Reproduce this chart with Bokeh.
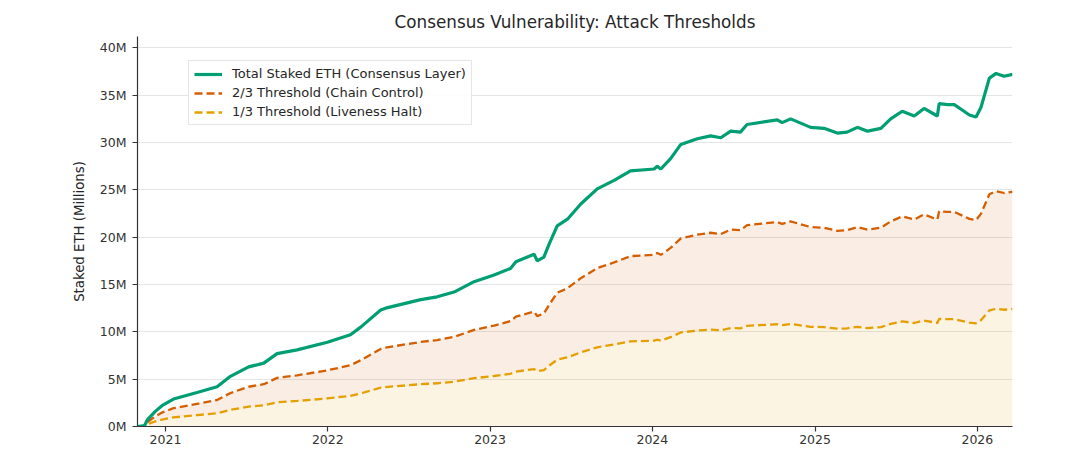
import pandas as pd
from bokeh.plotting import figure
from bokeh.models import (FixedTicker, PrintfTickFormatter, Legend, LegendItem,
                          Range1d, DatetimeTickFormatter, ColumnDataSource)
from bokeh.embed import file_html
from bokeh.resources import INLINE

# ---- data ----
dates = [
    "2020-10-30", "2020-11-15", "2020-11-21", "2020-12-09", "2020-12-24",
    "2021-01-19", "2021-03-13", "2021-04-27", "2021-05-27", "2021-07-07",
    "2021-08-10", "2021-09-09", "2021-10-24", "2021-12-31", "2022-02-21",
    "2022-03-16", "2022-04-30", "2022-05-11", "2022-07-29", "2022-09-04",
    "2022-10-12", "2022-11-26", "2023-01-10", "2023-02-16", "2023-02-28",
    "2023-04-10", "2023-04-17", "2023-05-02", "2023-05-14", "2023-06-01",
    "2023-06-24", "2023-07-24", "2023-08-30", "2023-10-07", "2023-11-13",
    "2024-01-05", "2024-01-12", "2024-01-20", "2024-02-11", "2024-03-05",
    "2024-04-11", "2024-05-11", "2024-06-03", "2024-06-25", "2024-07-17",
    "2024-08-01", "2024-10-08", "2024-10-19", "2024-11-07", "2024-12-22",
    "2025-01-21", "2025-02-20", "2025-03-14", "2025-04-06", "2025-04-29",
    "2025-05-29", "2025-06-20", "2025-07-16", "2025-08-12", "2025-09-03",
    "2025-10-03", "2025-10-07", "2025-10-26", "2025-11-10", "2025-12-02",
    "2025-12-14", "2025-12-29", "2026-01-09", "2026-01-28", "2026-02-12",
    "2026-03-02", "2026-03-21",
]
total_staked_m = [
    0.0, 0.1, 0.7, 1.6, 2.2,
    2.9, 3.6, 4.2, 5.3, 6.3,
    6.7, 7.7, 8.1, 8.9, 9.7,
    10.5, 12.3, 12.5, 13.4, 13.7,
    14.2, 15.3, 16.0, 16.7, 17.4,
    18.2, 17.5, 17.9, 19.3, 21.2,
    21.9, 23.5, 25.1, 26.0, 27.0,
    27.2, 27.5, 27.2, 28.3, 29.8,
    30.4, 30.7, 30.5, 31.2, 31.1,
    31.9, 32.4, 32.1, 32.5, 31.6,
    31.5, 31.0, 31.1, 31.6, 31.2,
    31.5, 32.5, 33.3, 32.8, 33.6,
    32.8, 34.1, 34.0, 34.0, 33.3,
    32.9, 32.7, 33.7, 36.8, 37.3,
    37.0, 37.2,
]
year_ticks = ["2021", "2022", "2023", "2024", "2025", "2026"]
y_ticks = [0, 5, 10, 15, 20, 25, 30, 35, 40]

series_names = ["Total Staked ETH (Consensus Layer)",
                "2/3 Threshold (Chain Control)",
                "1/3 Threshold (Liveness Halt)"]
GREEN, ORANGE, YELLOW = "#009e73", "#d55e00", "#e69f00"

df = pd.DataFrame({"date": pd.to_datetime(dates), "total": total_staked_m})
df["two_thirds"] = df["total"] * 2 / 3
df["one_third"] = df["total"] / 3
df["zero"] = 0.0
src = ColumnDataSource(df)

FONT = "DejaVu Sans"
p = figure(width=1064, height=449, x_axis_type="datetime",
           output_backend="svg", toolbar_location=None,
           x_range=Range1d(df["date"].min(), df["date"].max()),
           y_range=Range1d(0, 41.2),
           min_border_left=137, min_border_right=52,
           min_border_top=36, min_border_bottom=23)

p.title.text = "Consensus Vulnerability: Attack Thresholds"
p.title.align = "center"
p.title.text_font = FONT
p.title.text_font_size = "16.8px"
p.title.text_font_style = "normal"
p.title.text_color = "#262626"

p.outline_line_color = None
p.background_fill_color = "white"
p.border_fill_color = "white"

# fills
p.varea(x="date", y1="one_third", y2="two_thirds", source=src,
        fill_color=ORANGE, fill_alpha=0.11)
p.varea(x="date", y1="zero", y2="one_third", source=src,
        fill_color=YELLOW, fill_alpha=0.11)

# lines
r_one = p.line("date", "one_third", source=src, line_color=YELLOW,
               line_width=2.3, line_dash="8 4")
r_two = p.line("date", "two_thirds", source=src, line_color=ORANGE,
               line_width=2.3, line_dash="8 4")
r_tot = p.line("date", "total", source=src, line_color=GREEN,
               line_width=3.2)

# axes
p.xaxis.ticker = FixedTicker(ticks=[pd.Timestamp(f"{y}-01-01").value / 1e6
                                    for y in year_ticks])
p.xaxis.formatter = DatetimeTickFormatter(years="%Y", months="%Y", days="%Y",
                                          hours="%Y", minutes="%Y")
p.yaxis.ticker = FixedTicker(ticks=y_ticks)
p.yaxis.formatter = PrintfTickFormatter(format="%dM")
p.yaxis.axis_label = "Staked ETH (Millions)"

for ax in (p.xaxis[0], p.yaxis[0]):
    ax.axis_line_color = "#333333"
    ax.axis_line_width = 1.2
    ax.major_tick_line_color = "#333333"
    ax.major_tick_line_width = 1.2
    ax.major_tick_out = 5
    ax.major_tick_in = 0
    ax.minor_tick_line_color = None
    ax.major_label_text_font = FONT
    ax.major_label_text_font_size = "12.5px"
    ax.major_label_text_color = "#333333"
    ax.major_label_standoff = 6
    ax.axis_label_text_font = FONT
    ax.axis_label_text_font_size = "13.3px"
    ax.axis_label_text_font_style = "normal"
    ax.axis_label_text_color = "#262626"
p.xaxis.major_label_standoff = 3
p.yaxis.axis_label_standoff = 10

p.xgrid.visible = False
p.ygrid.grid_line_color = "#e5e5e5"
p.ygrid.grid_line_width = 1

legend = Legend(items=[LegendItem(label=series_names[0], renderers=[r_tot]),
                       LegendItem(label=series_names[1], renderers=[r_two]),
                       LegendItem(label=series_names[2], renderers=[r_one])],
                location=(51, 301))
legend.label_text_font = FONT
legend.label_text_font_size = "13px"
legend.label_text_color = "#262626"
legend.border_line_color = "#cccccc"
legend.border_line_width = 1
legend.background_fill_alpha = 0.9
legend.glyph_width = 28
legend.glyph_height = 14
legend.label_height = 14
legend.label_standoff = 10
legend.spacing = 4
legend.padding = 5
legend.margin = 0
p.add_layout(legend, "center")

open("out.html", "w").write(file_html(p, INLINE))
